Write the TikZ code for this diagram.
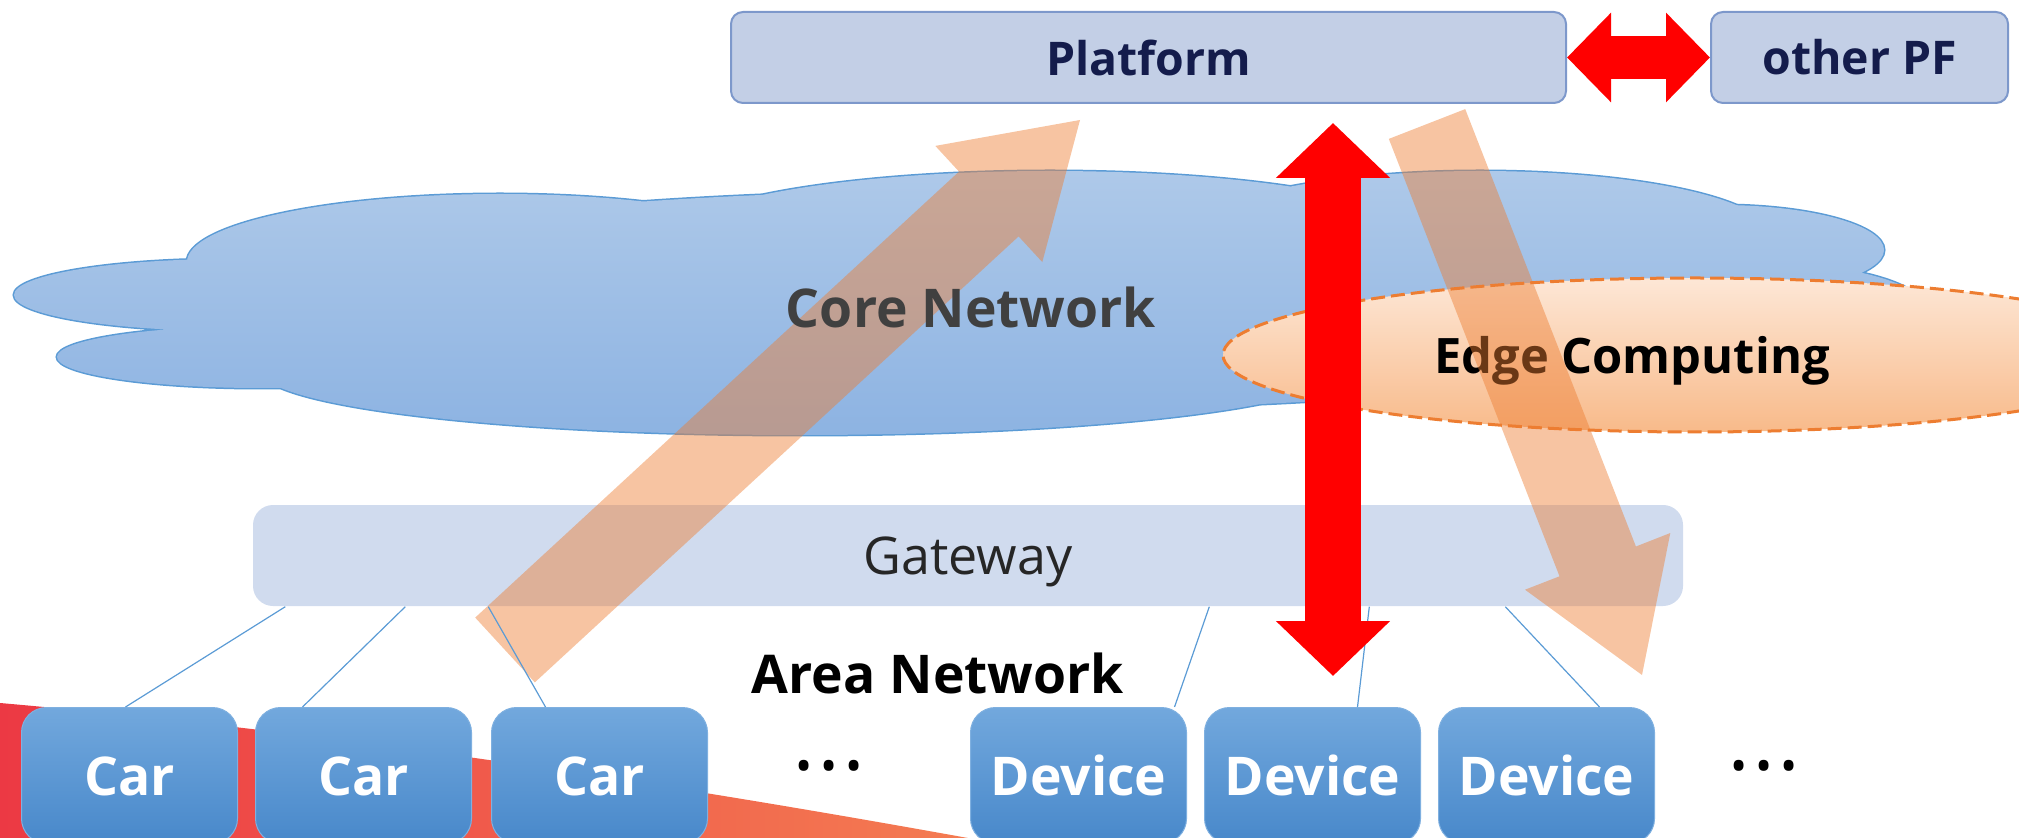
\documentclass[tikz,border=0pt]{standalone}
\usepackage{fontspec}
\setmainfont{Open Sans}
\usetikzlibrary{positioning,arrows.meta}

\definecolor{pffill}{HTML}{C3CFE6}
\definecolor{pfline}{HTML}{7D98CB}
\definecolor{pftext}{HTML}{141C4C}
\definecolor{gwfill}{HTML}{D0DBEE}
\definecolor{unittop}{HTML}{72A8DD}
\definecolor{unitbot}{HTML}{4888CA}
\definecolor{unitline}{HTML}{7FB0E0}
\definecolor{linkblue}{HTML}{5B9BD5}
\definecolor{cloudtop}{HTML}{AEC9E9}
\definecolor{cloudbot}{HTML}{8DB3E2}
\definecolor{flowor}{HTML}{ED7D31}
\definecolor{edgetop}{HTML}{FDE7D6}
\definecolor{edgebot}{HTML}{F8BA8A}
\definecolor{swred}{HTML}{EC3944}
\definecolor{swor}{HTML}{F47D52}

\newcommand{\cloudlobes}{2.30/5.42/2.16/0.36, 2.60/4.80/2.03/0.31, 5.00/5.75/3.13/0.68,
  10.50/5.97/3.80/0.69, 14.80/6.02/2.90/0.64, 17.20/5.87/1.64/0.45,
  17.60/5.27/1.66/0.47, 8.00/4.67/5.40/0.65, 10.00/5.37/8.00/1.10}

\begin{document}
\begin{tikzpicture}[
    pfbox/.style={draw=pfline, line width=0.02cm, fill=pffill, rounded corners=0.12cm,
      minimum height=0.91cm, inner sep=0pt, text=pftext,
      font=\fontsize{13.2}{15}\selectfont\bfseries},
    unitbox/.style={draw=unitline, line width=0.01cm, top color=unittop, bottom color=unitbot,
      rounded corners=0.25cm, minimum width=2.16cm, minimum height=1.36cm, inner sep=0pt,
      text height=0.4cm, text depth=0pt, text=white,
      font=\fontsize{15.2}{17}\selectfont\bfseries},
    link/.style={draw=linkblue, line width=0.012cm},
    bigarrow/.style={fill=flowor, fill opacity=0.45},
    redarrow/.style={draw=red, line width=0.56cm,
      {Triangle[length=0.55cm, width=1.11cm]}-{Triangle[length=0.55cm, width=1.11cm]}},
    label/.style={inner sep=0pt, anchor=base, font=\fontsize{15.2}{17}\selectfont\bfseries}
  ]
  \useasboundingbox (0,0) rectangle (20.19,8.37);
  \clip (0,0) rectangle (20.19,8.37);

  % background swoosh
  \shade[left color=swred, right color=swor] (0,1.34) .. controls (3.3,1.05) and (6.6,0.55) .. (9.9,-0.05) -- (0,-0.05) -- cycle;

  % core network cloud
  \draw[draw=linkblue, line width=0.03cm] foreach \cx/\cy/\rx/\ry in \cloudlobes {(\cx,\cy) ellipse (\rx cm and \ry cm)};
  \shade[top color=cloudtop, bottom color=cloudbot] foreach \cx/\cy/\rx/\ry in \cloudlobes {(\cx,\cy) ellipse (\rx cm and \ry cm)};

  % edge computing
  \draw[draw=flowor, line width=0.03cm, dash pattern=on 0.14cm off 0.06cm, top color=edgetop, bottom color=edgebot]
    (16.95,4.82) ellipse (4.72cm and 0.77cm);
  \node[label, font=\fontsize{13.9}{16}\selectfont\bfseries] (edge) at (16.32,4.63) {Edge Computing};

  % gateway
  \node[fill=gwfill, rounded corners=0.2cm, minimum width=14.30cm, minimum height=1.01cm, inner sep=0pt,
    text=black!85, text depth=0pt, font=\fontsize{14.8}{17}\selectfont] (gateway) at (9.68,2.815) {Gateway};

  % data flows
  \fill[bigarrow] (5.348,1.546) -- (10.186,6.006) -- (10.423,5.749) -- (10.80,7.17)
    -- (9.353,6.911) -- (9.590,6.654) -- (4.752,2.194) -- cycle;
  \fill[bigarrow] (13.888,6.981) -- (15.595,2.607) -- (15.250,2.473) -- (16.42,1.62)
    -- (16.703,3.040) -- (16.359,2.905) -- (14.652,7.279) -- cycle;
  \node[label, text=black!75] (core) at (9.71,5.09) {Core Network};

  % cars and devices
  \node[unitbox, anchor=north west] (car1) at (0.21,1.30) {Car};
  \node[unitbox, right=0.17cm of car1] (car2) {Car};
  \node[unitbox, right=0.19cm of car2] (car3) {Car};
  \node[unitbox, anchor=north west] (dev1) at (9.70,1.30) {Device};
  \node[unitbox, right=0.17cm of dev1] (dev2) {Device};
  \node[unitbox, right=0.17cm of dev2] (dev3) {Device};
  \node[inner sep=0pt, font=\fontsize{13}{15}\selectfont] (morecars) at (8.29,0.66) {\textbullet\,\textbullet\,\textbullet};
  \node[inner sep=0pt, font=\fontsize{13}{15}\selectfont] (moredevs) at (17.64,0.66) {\textbullet\,\textbullet\,\textbullet};

  \draw[link] ([xshift=0.33cm]gateway.south west) -- ([xshift=-0.04cm]car1.north);
  \draw[link] ([xshift=1.53cm]gateway.south west) -- ([xshift=-0.61cm]car2.north);
  \draw[link] ([xshift=2.36cm]gateway.south west) -- ([xshift=-0.54cm]car3.north);
  \draw[link] ([xshift=9.57cm]gateway.south west) -- ([xshift=0.96cm]dev1.north);
  \draw[link] ([xshift=11.17cm]gateway.south west) -- ([xshift=0.45cm]dev2.north);
  \draw[link] ([xshift=12.53cm]gateway.south west) -- ([xshift=0.53cm]dev3.north);

  \node[label, text=black] (area) at (9.38,1.44) {Area Network};

  % platforms
  \node[pfbox, minimum width=8.35cm] (platform) at (11.485,7.795) {Platform};
  \node[pfbox, minimum width=2.97cm, right=1.43cm of platform] (otherpf) {other PF};

  \coordinate (pfdown) at (13.33,7.14);
  \coordinate (devup) at (13.33,1.61);
  \draw[redarrow] (pfdown) -- (devup);
  \draw[redarrow, line width=0.43cm, {Triangle[length=0.44cm, width=0.87cm]}-{Triangle[length=0.44cm, width=0.87cm]}]
    (platform.east) -- (otherpf.west);
\end{tikzpicture}
\end{document}
